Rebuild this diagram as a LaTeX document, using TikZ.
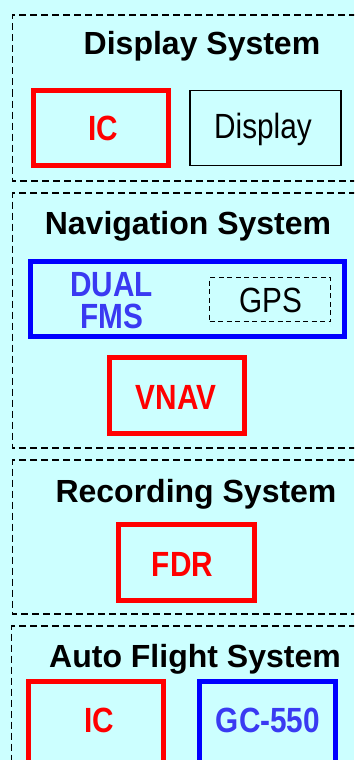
\documentclass[tikz,border=0pt]{standalone}
\usepackage{fontspec}
\setmainfont{Liberation Sans}
\newfontfamily\narrowfont{Liberation Sans}[FakeStretch=0.85]
\definecolor{bgcyan}{HTML}{CCFFFF}
\definecolor{boxred}{HTML}{FF0000}
\definecolor{boxblue}{HTML}{0000FF}
\definecolor{txtblue}{HTML}{3A3AF2}
\tikzset{
  sysbox/.style={draw=black, line width=1.5pt, dash pattern=on 7pt off 4pt},
  title/.style={font=\fontsize{32}{38}\selectfont\bfseries, inner sep=0pt, anchor=base},
  lbl/.style={font=\narrowfont\fontsize{35}{32}\selectfont, inner sep=0pt, anchor=base},
  blbl/.style={lbl, font=\narrowfont\fontsize{35}{32}\selectfont\bfseries},
  redbox/.style={draw=boxred, line width=5pt, inner sep=0pt, outer sep=0pt},
  bluebox/.style={draw=boxblue, line width=5pt, inner sep=0pt, outer sep=0pt},
  thinbox/.style={draw=black, line width=1.5pt, inner sep=0pt, outer sep=0pt},
  gpsbox/.style={draw=black, line width=1.3pt, dash pattern=on 5pt off 3.5pt, inner sep=0pt, outer sep=0pt},
}
\begin{document}
\begin{tikzpicture}[x=1pt, y=-1pt]
\fill[bgcyan] (0,0) rectangle (354,760);
\useasboundingbox (0,0) rectangle (354,760);
\clip (0,0) rectangle (354,760);

% Display System
\draw[sysbox] (400,15) -- (12.5,15) -- (12.5,181) -- (400,181);
\node[title] (tdisp) at (202,55) {Display System};
\node[redbox, minimum width=135, minimum height=75, anchor=north west] (ic1box) at (33.5,90.5) {};
\node[blbl, text=boxred] (ic1) at (103.5,140) {IC};
\node[thinbox, minimum width=151, minimum height=75, anchor=north west] (dispbox) at (190,90.5) {};
\node[lbl] (disp) at (263,138) {Display};

% Navigation System
\draw[sysbox] (400,193) -- (12.5,193) -- (12.5,448) -- (400,448);
\node[title] (tnav) at (188,234) {Navigation System};
\node[bluebox, minimum width=314, minimum height=75, anchor=north west] (fmsbox) at (30.5,261.5) {};
\node[blbl, text=txtblue, align=center, anchor=center] (dualfms) at (111.5,300.5) {DUAL\\FMS};
\node[gpsbox, minimum width=121, minimum height=44, anchor=north west] (gpsbox) at (209.5,277.5) {};
\node[lbl] (gps) at (270.5,312) {GPS};
\node[redbox, minimum width=135, minimum height=76, anchor=north west] (vnavbox) at (109.5,357.5) {};
\node[blbl, text=boxred] (vnav) at (176,409) {VNAV};

% Recording System
\draw[sysbox] (400,460) -- (12.5,460) -- (12.5,614) -- (400,614);
\node[title] (trec) at (196,502) {Recording System};
\node[redbox, minimum width=136, minimum height=76, anchor=north west] (fdrbox) at (118.5,524.5) {};
\node[blbl, text=boxred] (fdr) at (182.5,576) {FDR};

% Auto Flight System
\draw[sysbox] (400,626) -- (11.5,626) -- (11.5,800);
\node[title] (tafs) at (195,667) {Auto Flight System};
\node[redbox, minimum width=135, minimum height=110, anchor=north west] (ic2box) at (28.5,681.5) {};
\node[blbl, text=boxred] (ic2) at (99,732) {IC};
\node[bluebox, minimum width=136, minimum height=110, anchor=north west] (gcbox) at (199.5,681.5) {};
\node[blbl, text=txtblue] (gc) at (268,732) {GC-550};
\end{tikzpicture}
\end{document}
